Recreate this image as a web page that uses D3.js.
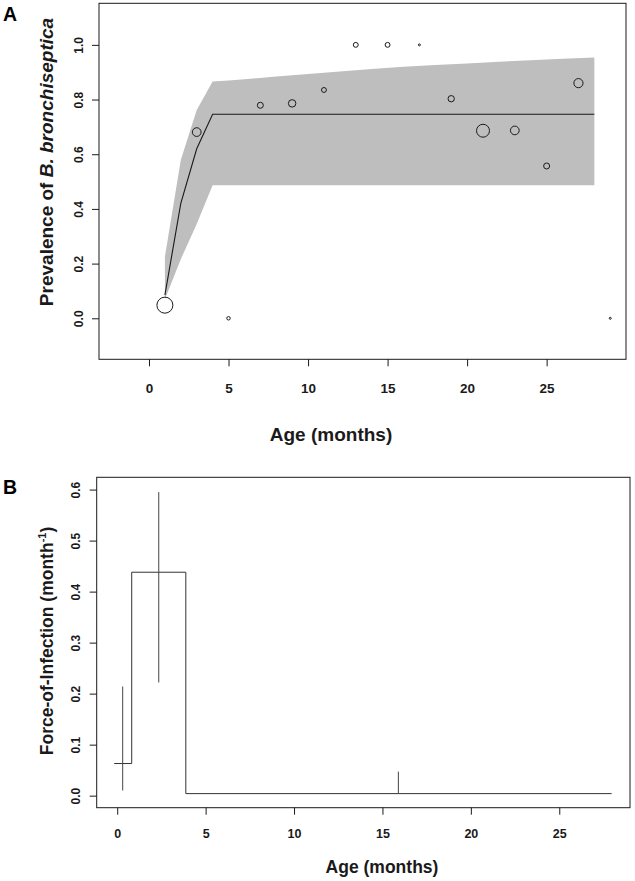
<!DOCTYPE html>
<html>
<head>
<meta charset="utf-8">
<script src="https://cdn.jsdelivr.net/npm/d3@7"></script>
<style>
  body { margin: 0; background: #fff; }
  svg { display: block; }
  text { font-family: "Liberation Sans", Arial, Helvetica, sans-serif; }
</style>
</head>
<body>
<svg id="chart" width="635" height="881"></svg>
<script>
// ---------- Panel A data ----------
const obsAge        = [1, 3, 5, 7, 9, 11, 13, 15, 17, 19, 21, 23, 25, 27, 29];
const obsPrevalence = [0.048, 0.681, 0.0, 0.779, 0.786, 0.835, 1.0, 1.0, 1.0, 0.803, 0.686, 0.687, 0.557, 0.860, 0.0];
const obsSampleSize = [64, 19, 3, 9, 14, 6, 6, 6, 1, 10, 42, 19, 9, 21, 1];

const fitAge   = [1, 2, 3, 4, 28];
const fitPrev  = [0.085, 0.42, 0.62, 0.746, 0.746];

const bandAge   = [1, 2, 3, 4, 5, 6, 8, 10, 12, 14, 16, 18, 20, 22, 24, 26, 28];
const bandUpper = [0.225, 0.579, 0.762, 0.866, 0.870, 0.874, 0.884, 0.893, 0.903, 0.912, 0.920, 0.926, 0.932, 0.938, 0.944, 0.949, 0.954];
const bandLower = [0.07, 0.216, 0.345, 0.487, 0.487, 0.487, 0.487, 0.487, 0.487, 0.487, 0.487, 0.487, 0.487, 0.487, 0.487, 0.487, 0.487];

const xTicksA = [0, 5, 10, 15, 20, 25];
const yTicksA = [0.0, 0.2, 0.4, 0.6, 0.8, 1.0];

// ---------- Panel B data ----------
const foiBreaks = [-0.17, 0.82, 3.88, 27.96];
const foiValue  = [0.063, 0.438, 0.004];
const ciAge     = [0.31, 2.35, 15.9];
const ciLower   = [0.010, 0.222, 0.004];
const ciUpper   = [0.214, 0.595, 0.047];

const xTicksB = [0, 5, 10, 15, 20, 25];
const yTicksB = [0.0, 0.1, 0.2, 0.3, 0.4, 0.5, 0.6];

const svg = d3.select("#chart");
const INK = "#1a1a1a";

function fmt1(d) { return d3.format(".1f")(d); }

// ================= Panel A =================
const A = { left: 99, right: 626, top: 3.3, bottom: 359.3 };
const xA = d3.scaleLinear().domain([-3.143, 29.99]).range([A.left, A.right]);
const yA = d3.scaleLinear().domain([-0.150, 1.152]).range([A.bottom, A.top]);
const rA = d3.scaleSqrt().domain([0, 64]).range([0, 8]);

const gA = svg.append("g");

// band
const bandData = bandAge.map((a, i) => ({ a, lo: bandLower[i], hi: bandUpper[i] }));
gA.append("path")
  .datum(bandData)
  .attr("d", d3.area().x(d => xA(d.a)).y0(d => yA(d.lo)).y1(d => yA(d.hi)))
  .attr("fill", "#bebebe");

// fitted line
gA.append("path")
  .datum(fitAge.map((a, i) => ({ a, p: fitPrev[i] })))
  .attr("d", d3.line().x(d => xA(d.a)).y(d => yA(d.p)))
  .attr("fill", "none").attr("stroke", INK).attr("stroke-width", 1.1);

// observations
gA.selectAll("circle.obs")
  .data(obsAge.map((a, i) => ({ a, p: obsPrevalence[i], n: obsSampleSize[i] })))
  .join("circle")
  .attr("class", "obs")
  .attr("cx", d => xA(d.a)).attr("cy", d => yA(d.p))
  .attr("r", d => rA(d.n))
  .attr("fill", "none").attr("stroke", INK).attr("stroke-width", 1);

// box
gA.append("rect")
  .attr("x", A.left).attr("y", A.top)
  .attr("width", A.right - A.left).attr("height", A.bottom - A.top)
  .attr("fill", "none").attr("stroke", INK).attr("stroke-width", 1);

// x axis A
const axA = gA.append("g").attr("transform", `translate(0,${A.bottom})`)
  .call(d3.axisBottom(xA).tickValues(xTicksA).tickSize(7).tickFormat(d3.format("d")));
axA.select(".domain").remove();
axA.selectAll("line").attr("stroke", INK);
axA.selectAll("text").attr("y", 34).attr("dy", 0)
  .attr("font-size", 13.5).attr("font-weight", "bold").attr("fill", INK)
  .attr("font-family", "Liberation Sans, Arial, sans-serif");

// y axis A
const ayA = gA.append("g").attr("transform", `translate(${A.left},0)`)
  .call(d3.axisLeft(yA).tickValues(yTicksA).tickSize(7).tickFormat(fmt1));
ayA.select(".domain").remove();
ayA.selectAll("line").attr("stroke", INK);
ayA.selectAll("text")
  .attr("transform", "rotate(-90)")
  .attr("x", 0).attr("y", -16.5).attr("dy", 0)
  .attr("text-anchor", "middle")
  .attr("font-size", 12).attr("font-weight", "bold").attr("fill", INK)
  .attr("font-family", "Liberation Sans, Arial, sans-serif");

// titles A
gA.append("text")
  .attr("x", 331).attr("y", 440.5)
  .attr("text-anchor", "middle")
  .attr("font-size", 19).attr("font-weight", "bold").attr("fill", INK)
  .text("Age (months)");

const ytA = gA.append("text")
  .attr("transform", "translate(53,162) rotate(-90)")
  .attr("text-anchor", "middle")
  .attr("font-size", 19).attr("font-weight", "bold").attr("fill", INK);
ytA.append("tspan").text("Prevalence of ");
ytA.append("tspan").attr("font-style", "italic").text("B. bronchiseptica");

gA.append("text")
  .attr("x", 3).attr("y", 20.5)
  .attr("font-size", 19.5).attr("font-weight", "bold").attr("fill", "#000")
  .text("A");

// ================= Panel B =================
const B = { left: 96.7, right: 630, top: 477.3, bottom: 807.7 };
const xB = d3.scaleLinear().domain([-1.16, 29.0]).range([B.left, B.right]);
const yB = d3.scaleLinear().domain([-0.0236, 0.6241]).range([B.bottom, B.top]);

const gB = svg.append("g");

// step function
const stepData = foiBreaks.map((b, i) => ({ a: b, v: foiValue[Math.min(i, foiValue.length - 1)] }));
gB.append("path")
  .datum(stepData)
  .attr("d", d3.line().curve(d3.curveStepAfter).x(d => xB(d.a)).y(d => yB(d.v)))
  .attr("fill", "none").attr("stroke", "#333").attr("stroke-width", 1);

// confidence intervals
gB.selectAll("line.ci")
  .data(ciAge.map((a, i) => ({ a, lo: ciLower[i], hi: ciUpper[i] })))
  .join("line")
  .attr("class", "ci")
  .attr("x1", d => xB(d.a)).attr("x2", d => xB(d.a))
  .attr("y1", d => yB(d.lo)).attr("y2", d => yB(d.hi))
  .attr("stroke", "#444").attr("stroke-width", 1);

// box
gB.append("rect")
  .attr("x", B.left).attr("y", B.top)
  .attr("width", B.right - B.left).attr("height", B.bottom - B.top)
  .attr("fill", "none").attr("stroke", INK).attr("stroke-width", 1);

const axB = gB.append("g").attr("transform", `translate(0,${B.bottom})`)
  .call(d3.axisBottom(xB).tickValues(xTicksB).tickSize(7).tickFormat(d3.format("d")));
axB.select(".domain").remove();
axB.selectAll("line").attr("stroke", INK);
axB.selectAll("text").attr("y", 30).attr("dy", 0)
  .attr("font-size", 12.5).attr("font-weight", "bold").attr("fill", INK)
  .attr("font-family", "Liberation Sans, Arial, sans-serif");

const ayB = gB.append("g").attr("transform", `translate(${B.left},0)`)
  .call(d3.axisLeft(yB).tickValues(yTicksB).tickSize(7).tickFormat(fmt1));
ayB.select(".domain").remove();
ayB.selectAll("line").attr("stroke", INK);
ayB.selectAll("text")
  .attr("transform", "rotate(-90)")
  .attr("x", 0).attr("y", -16.7).attr("dy", 0)
  .attr("text-anchor", "middle")
  .attr("font-size", 12).attr("font-weight", "bold").attr("fill", INK)
  .attr("font-family", "Liberation Sans, Arial, sans-serif");

gB.append("text")
  .attr("x", 382).attr("y", 872.5)
  .attr("text-anchor", "middle")
  .attr("font-size", 17.5).attr("font-weight", "bold").attr("fill", INK)
  .text("Age (months)");

const ytB = gB.append("text")
  .attr("transform", "translate(53,641) rotate(-90)")
  .attr("text-anchor", "middle")
  .attr("font-size", 17.5).attr("font-weight", "bold").attr("fill", INK);
ytB.append("tspan").text("Force-of-Infection (month");
ytB.append("tspan").attr("font-size", 11).attr("dy", -7).text("-1");
ytB.append("tspan").attr("dy", 7).text(")");

gB.append("text")
  .attr("x", 3).attr("y", 493.5)
  .attr("font-size", 19.5).attr("font-weight", "bold").attr("fill", "#000")
  .text("B");
</script>
</body>
</html>
